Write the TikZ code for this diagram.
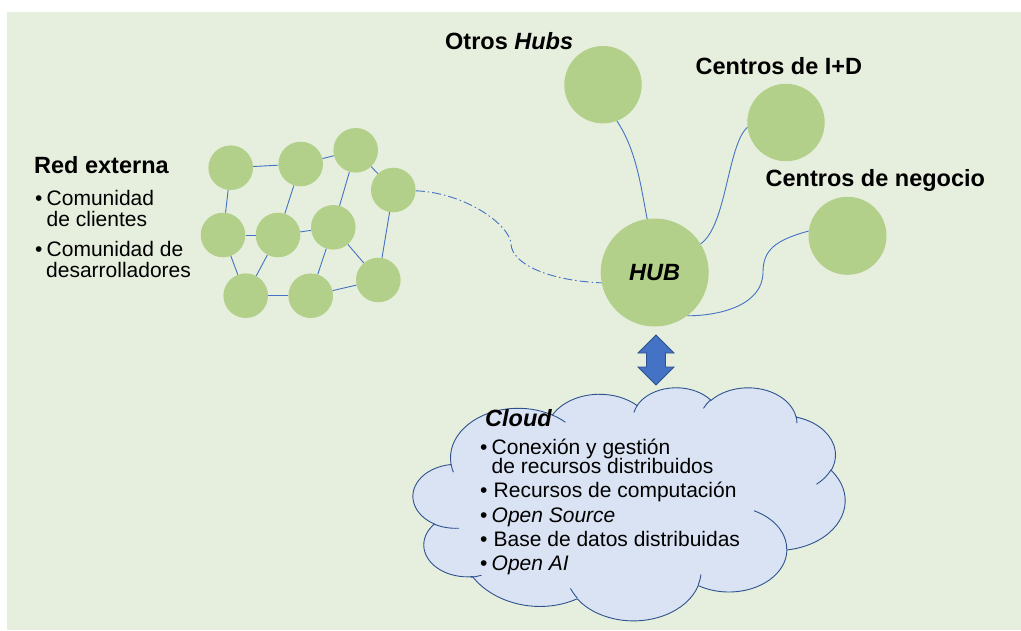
\documentclass[tikz,border=0pt]{standalone}
\usepackage{fontspec}
\setmainfont{Liberation Sans}
\definecolor{bg}{HTML}{E6EFDD}
\definecolor{nodegreen}{HTML}{B2D08A}
\definecolor{linkblue}{HTML}{4472C4}
\definecolor{arrowedge}{HTML}{2F528F}
\definecolor{cloudfill}{HTML}{DAE3F3}
\definecolor{cloudline}{HTML}{2F528F}
\begin{document}
\begin{tikzpicture}[x=1pt,y=-1pt,
  declare function={pa(\q,\rw,\rh)=(\q)+(atan2(\rw*sin(\q),\rh*cos(\q))-(\q))-360*round((atan2(\rw*sin(\q),\rh*cos(\q))-(\q))/360);},
  bubble/.style={circle,fill=nodegreen,draw=none,inner sep=0pt,minimum size=#1},
  bubble/.default=44.6pt,
  link/.style={draw=linkblue,line width=0.9pt},
  dashdotlink/.style={link,dash pattern=on 9pt off 3pt on 1.5pt off 3pt},
  heading/.style={font=\fontsize{23.5pt}{28pt}\selectfont\bfseries,anchor=base west,inner sep=0pt},
  body/.style={font=\fontsize{21pt}{25pt}\selectfont,anchor=base west,inner sep=0pt},
  carc/.style n args={4}{x radius=#1,y radius=#2,start angle={pa(#3,#1,#2)},end angle={pa(#3+#4,#1,#2)}},
  cloudshape/.style={fill=cloudfill,draw=cloudline,line width=0.9pt},
  cloudinner/.style={draw=cloudline,line width=0.9pt},
  blockarrow/.style={fill=linkblue,draw=arrowedge,line width=0.8pt}
]
\useasboundingbox (0,0) rectangle (1021,630);
\fill[bg] (7,12) rectangle (1021,630);

% external network
\node[bubble] (n1) at (230.7,167.7) {};
\node[bubble] (n2) at (300.7,164) {};
\node[bubble] (n3) at (355.7,150.3) {};
\node[bubble] (n4) at (393.3,190) {};
\node[bubble] (n5) at (223,235) {};
\node[bubble] (n6) at (278,235) {};
\node[bubble] (n7) at (333.3,227.3) {};
\node[bubble] (n8) at (378.3,280) {};
\node[bubble] (n9) at (245.7,295.7) {};
\node[bubble] (n10) at (310.7,295.7) {};
\foreach \a/\b in {n1/n2,n2/n3,n3/n4,n1/n5,n5/n6,n2/n6,n6/n7,n3/n7,n5/n9,n6/n9,n7/n10,n7/n8,n4/n8,n9/n10,n10/n8}
  \draw[link] (\a) -- (\b);

% hub and partners
\node[bubble=108pt,font=\fontsize{23.5pt}{28pt}\selectfont\bfseries\itshape] (hub) at (654.7,272.5) {HUB};
\node[bubble=77.4pt] (oh) at (603,84.7) {};
\node[bubble=77.4pt] (id) at (786,122.5) {};
\node[bubble=78pt] (neg) at (847.5,235.8) {};

\draw[link] (oh.-69) .. controls +(20,30) and +(-6,-30) .. (hub.98);
\draw[link] (id.187) .. controls +(-20,18) and +(26,-18) .. (hub.32);
\coordinate (negbend) at (763,272);
\draw[link] (neg.173) .. controls +(-33,9) and +(0,-22) .. (negbend)
  .. controls +(0,33) and +(33,0) .. (hub.-53);
\coordinate (dashbend) at (511,244);
\draw[dashdotlink] (n4.-2) .. controls +(50,2) and +(-1,-19) .. (dashbend)
  .. controls +(1,21) and +(-50,-2) .. (hub.191);

% labels
\node[heading] (lblred) at (34,173) {Red externa};
\node[body] (b1) at (35,205) {•};
\node[body] (t1) at (46.5,205) {Comunidad};
\node[body] (t1b) at (46.5,226.5) {de clientes};
\node[body] (b2) at (35,256.5) {•};
\node[body] (t2) at (46.5,256.5) {Comunidad de};
\node[body] (t2b) at (46,277.5) {desarrolladores};

\node[heading] (lbloh) at (445,49.5) {Otros \textit{Hubs}};
\node[heading] (lblid) at (695.5,74.2) {Centros de I+D};
\node[heading] (lblneg) at (765.5,186.5) {Centros de negocio};

% double arrow
\filldraw[blockarrow] (656,335) -- (674,353) -- (665.5,353) -- (665.5,367) -- (674,367)
  -- (656,385) -- (638,367) -- (646.5,367) -- (646.5,353) -- (638,353) -- cycle;

% cloud
\begin{scope}[shift={(412pt,-387pt)},x={(0.100231pt,0pt)},y={(0pt,-0.053935pt)}]
\path[cloudshape] (604,3515.2)
  arc[carc={436.0}{591.8}{85.0579}{144.5603}]
  arc[carc={434.5}{594.5}{-246.8285}{151.6786}]
  arc[carc={675.3}{919.0}{-190.4875}{123.7805}]
  arc[carc={533.3}{726.7}{-144.1024}{89.9452}]
  arc[carc={436.5}{594.5}{-145.8079}{99.7230}]
  arc[carc={485.7}{659.5}{-130.9861}{117.2417}]
  arc[carc={533.3}{727.3}{-78.7089}{109.0269}]
  arc[carc={677.5}{922.0}{-46.2673}{130.2690}]
  arc[carc={578.5}{786.7}{0.6250}{114.0333}]
  arc[carc={675.2}{921.5}{22.4516}{115.1726}]
  .. controls (1278.0,4230.7) and (819.8,4025.6) .. (604,3515.2)
  -- cycle;
\path[cloudinner]
  (469.3,2617.7) arc[carc={434.5}{594.5}{86.7420}{26.4295}]
  (692.8,3489.9) arc[carc={436.0}{591.8}{73.6105}{11.4475}]
  (1647.8,3909.0) arc[carc={675.2}{921.5}{137.6242}{14.0811}]
  (2882.7,3475.1) arc[carc={675.2}{921.5}{6.4533}{15.9984}]
  (3412.9,2295.4) arc[carc={578.5}{786.7}{-70.2924}{70.9174}]
  (4179.8,1535.4) arc[carc={533.3}{727.3}{30.3180}{27.7515}]
  (3832.4,542.6) arc[carc={485.7}{659.5}{-13.7443}{14.8541}]
  (2907.8,395.2) arc[carc={485.7}{659.5}{-149.1815}{18.1959}]
  (2214.1,472.0) arc[carc={436.5}{594.5}{-163.4943}{17.6874}]
  (1400.0,519.2) arc[carc={675.3}{919.0}{-66.7070}{12.3194}]
  (412.7,1578.9) arc[carc={675.3}{919.0}{157.6544}{11.8582}];
\end{scope}

\node[heading,font=\fontsize{23.5pt}{28pt}\selectfont\bfseries\itshape] (lblcloud) at (485,426.7) {Cloud};
\node[body] (c1b) at (480,454) {•};
\node[body] (c1) at (491.5,454) {Conexión y gestión};
\node[body] (c1c) at (491.5,473.5) {de recursos distribuidos};
\node[body] (c2b) at (480,497.7) {•};
\node[body] (c2) at (493.5,497.7) {Recursos de computación};
\node[body] (c3b) at (480,522.7) {•};
\node[body] (c3) at (491.5,522.7) {\textit{Open Source}};
\node[body] (c4b) at (480,546.7) {•};
\node[body] (c4) at (493.5,546.7) {Base de datos distribuidas};
\node[body] (c5b) at (480,570.7) {•};
\node[body] (c5) at (491.5,570.7) {\textit{Open AI}};
\end{tikzpicture}
\end{document}
